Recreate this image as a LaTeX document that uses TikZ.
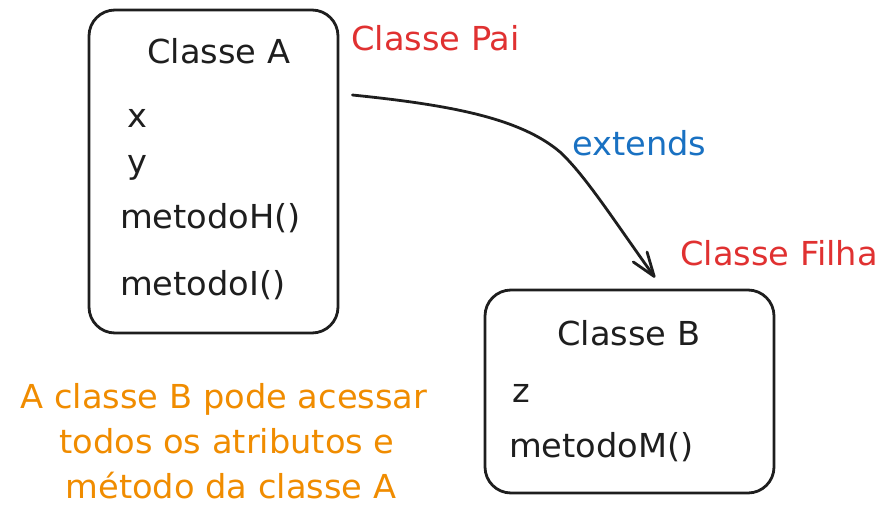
\documentclass[tikz,border=0pt]{standalone}
\usepackage{fontspec}
\setmainfont{DejaVu Sans}[FakeStretch=1.02]
\usetikzlibrary{arrows.meta}
\definecolor{ink}{HTML}{1E1E1E}
\definecolor{redtxt}{HTML}{E03131}
\definecolor{bluetxt}{HTML}{1971C2}
\definecolor{orangetxt}{HTML}{F08C00}
\tikzset{
  classbox/.style={draw=ink, line width=2.8pt, rounded corners=26pt, inner sep=0pt},
  lbl/.style={inner sep=0pt, anchor=base west, text=ink, font=\fontsize{33}{40}\selectfont},
  notelbl/.style={inner sep=0pt, anchor=base, text=orangetxt, font=\fontsize{33}{40}\selectfont},
  conn/.style={draw=ink, line width=2.8pt, line cap=round, line join=round,
    -{Straight Barb[length=24pt,width=17pt,line cap=round,line join=round]}}
}
\begin{document}
\begin{tikzpicture}[x=1pt,y=-1pt]
\useasboundingbox (0,0) rectangle (896,522);
% boxes
\node[classbox, minimum width=249pt, minimum height=323pt] (A) at (213.5,171.5) {};
\node[classbox, minimum width=289pt, minimum height=203pt] (B) at (629.5,391.5) {};
% box A texts
\node[lbl] (ta) at (147,63) {Classe A};
\node[lbl] (ax) at (127,127) {x};
\node[lbl] (ay) at (127,173) {y};
\node[lbl] (ah) at (120,228) {metodoH()};
\node[lbl] (ai) at (120,295) {metodoI()};
% box B texts
\node[lbl] (tb) at (557,345) {Classe B};
\node[lbl] (bz) at (512,402) {z};
\node[lbl] (bm) at (509,457) {metodoM()};
% labels
\node[lbl, text=redtxt] (pai) at (351,50) {Classe Pai};
\node[lbl, text=redtxt] (filha) at (680,265) {Classe Filha};
\node[lbl, text=bluetxt] (ext) at (572,155) {extends};
\node[notelbl] (note1) at (224,408) {A classe B pode acessar};
\node[notelbl] (note2) at (227,453) {todos os atributos e};
\node[notelbl] (note3) at (231,498) {método da classe A};
% connector
\coordinate (s) at ([xshift=13pt,yshift=76.5pt]A.east);
\coordinate (e) at ([xshift=25.5pt,yshift=11pt]B.north);
\draw[conn] (s) .. controls (450,105) and (520,118) .. (560,152)
  .. controls (585,175) and (615,222) .. (e);
\end{tikzpicture}
\end{document}
